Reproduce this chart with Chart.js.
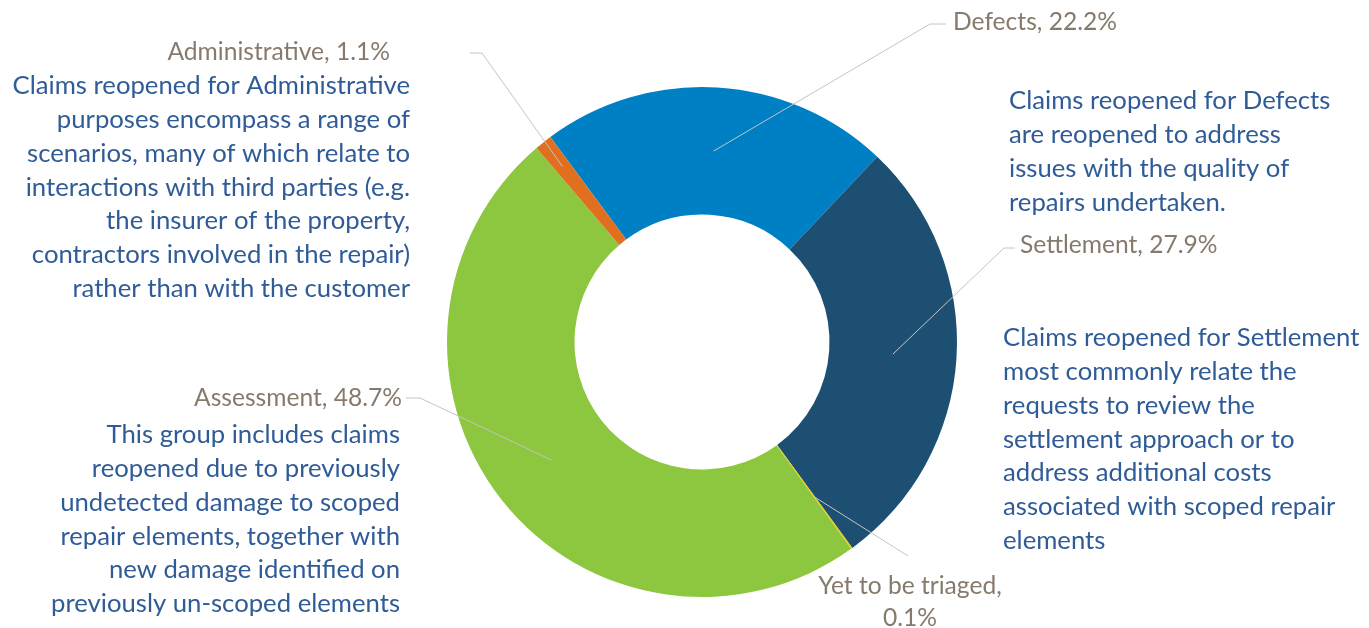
<!DOCTYPE html>
<html>
<head>
<meta charset="utf-8">
<script src="https://cdn.jsdelivr.net/npm/chart.js@4.4.1/dist/chart.umd.min.js"></script>
<style>
    html, body { margin: 0; padding: 0; background: #ffffff; }
    #wrap { width: 1369px; height: 628px; position: relative; }
</style>
</head>
<body>
<div id="wrap"><canvas id="reopen_chart"></canvas></div>
<script>
// Reopened claims by reason (share of all reopened claims, %)
let categories = ["Defects", "Settlement", "Yet to be triaged", "Assessment", "Administrative"];
let shares = [22.2, 27.9, 0.1, 48.7, 1.1];
let slice_colors = ["#0080c4", "#1d4f72", "#f0c800", "#8dc63f", "#e07020"];

let descriptions_defects = [
    "Claims reopened for Defects",
    "are reopened to address",
    "issues with the quality of",
    "repairs undertaken."
];
let descriptions_settlement = [
    "Claims reopened for Settlement",
    "most commonly relate the",
    "requests to review the",
    "settlement approach or to",
    "address additional costs",
    "associated with scoped repair",
    "elements"
];
let descriptions_assessment = [
    "This group includes claims",
    "reopened due to previously",
    "undetected damage to scoped",
    "repair elements, together with",
    "new damage identified on",
    "previously un-scoped elements"
];
let descriptions_admin = [
    "Claims reopened for Administrative",
    "purposes encompass a range of",
    "scenarios, many of which relate to",
    "interactions with third parties (e.g.",
    "the insurer of the property,",
    "contractors involved in the repair)",
    "rather than with the customer"
];

const FONT = "Lato, 'Open Sans', sans-serif";
const HEAD_COLOR = "#867a6c";
const BODY_COLOR = "#2f5b97";
const LINE_COLOR = "#c4c4c4";

// label placement, one entry per slice (same order as categories)
let label_layout = [
    { head: [["Defects, 22.2%", 953, 22, "left"]], body: descriptions_defects, bx: 1009, by: 101, align: "left", leader: [[930, 24], [946, 24]] },
    { head: [["Settlement, 27.9%", 1020, 245, "left"]], body: descriptions_settlement, bx: 1003, by: 338, align: "left", leader: [[1004, 248], [1015, 248]] },
    { head: [["Yet to be triaged,", 910, 586, "center"], ["0.1%", 910, 618, "center"]], body: [], leader: [[908, 556]] },
    { head: [["Assessment, 48.7%", 402, 398, "right"]], body: descriptions_assessment, bx: 400, by: 435, align: "right", leader: [[420, 398], [406, 398]] },
    { head: [["Administrative, 1.1%", 390, 52, "right"]], body: descriptions_admin, bx: 410, by: 86, align: "right", leader: [[482, 53], [470, 53]] }
];

function fitSize(ctx, text, width) {
    ctx.font = "100px " + FONT;
    return 100 * width / ctx.measureText(text).width;
}

const labelPlugin = {
    id: "sliceLabels",
    afterDraw(chart) {
        const ctx = chart.ctx;
        const arcs = chart.getDatasetMeta(0).data;
        const headSize = fitSize(ctx, "Defects, 22.2%", 164);
        const bodySize = fitSize(ctx, "Claims reopened for Administrative", 397);

        ctx.save();
        label_layout.forEach((lab, i) => {
            const a = arcs[i];
            const mid = (a.startAngle + a.endAngle) / 2;
            // admin leader runs out to near the outer rim, the rest stop mid ring
            const r = i === 4 ? a.outerRadius * 0.88 : (a.innerRadius + a.outerRadius) / 2;
            ctx.strokeStyle = LINE_COLOR;
            ctx.lineWidth = 1;
            ctx.beginPath();
            ctx.moveTo(a.x + Math.cos(mid) * r, a.y + Math.sin(mid) * r);
            lab.leader.forEach(p => ctx.lineTo(p[0], p[1]));
            ctx.stroke();

            ctx.textBaseline = "middle";
            ctx.fillStyle = HEAD_COLOR;
            ctx.font = headSize.toFixed(1) + "px " + FONT;
            lab.head.forEach(h => {
                ctx.textAlign = h[3];
                ctx.fillText(h[0], h[1], h[2]);
            });

            ctx.fillStyle = BODY_COLOR;
            ctx.font = bodySize.toFixed(1) + "px " + FONT;
            ctx.textAlign = lab.align;
            lab.body.forEach((line, k) => {
                ctx.fillText(line, lab.bx, lab.by + k * 33.8);
            });
        });
        ctx.restore();
    }
};

new Chart("reopen_chart", {
    type: "doughnut",
    data: {
        labels: categories,
        datasets: [{
            data: shares,
            backgroundColor: slice_colors,
            borderWidth: 0
        }]
    },
    options: {
        responsive: true,
        maintainAspectRatio: false,
        animation: false,
        rotation: -36.5,
        cutout: "50%",
        layout: { padding: { left: 447, right: 412, top: 87, bottom: 31 } },
        events: [],
        plugins: {
            legend: { display: false },
            tooltip: { enabled: false }
        }
    },
    plugins: [labelPlugin]
});
</script>
</body>
</html>
